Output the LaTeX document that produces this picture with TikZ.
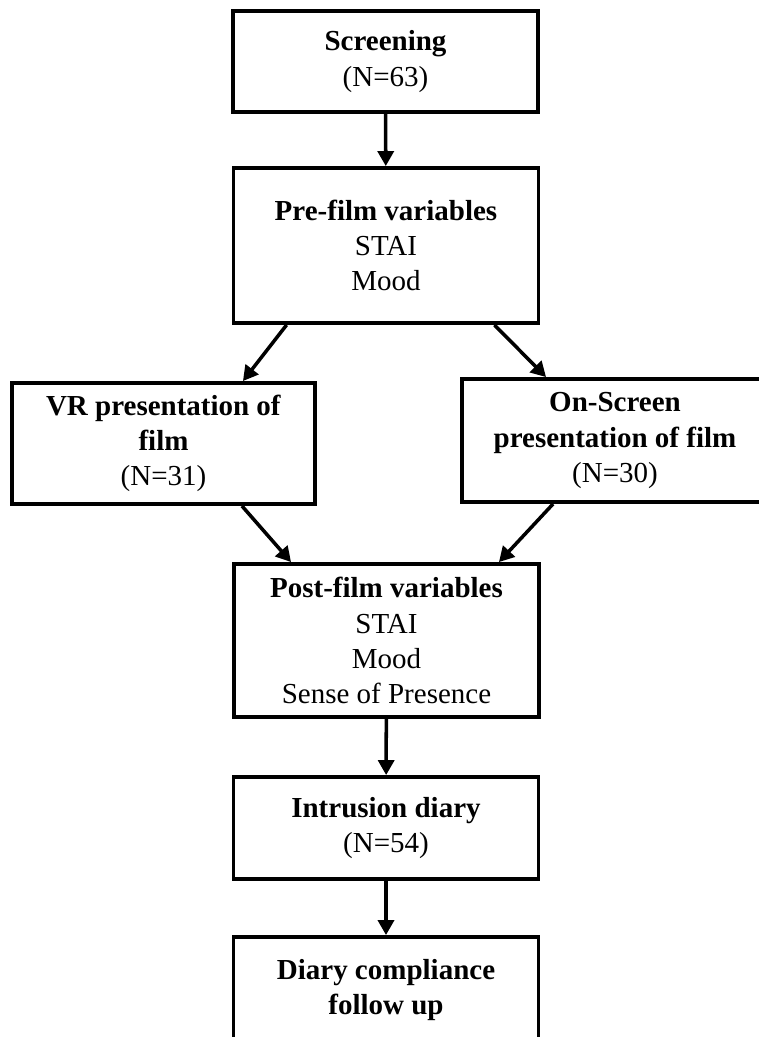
\documentclass[tikz,border=0pt]{standalone}
\usepackage{fontspec}
\setmainfont{Liberation Serif}
\usepackage{tikz}
\usetikzlibrary{arrows.meta}

\begin{document}
\begin{tikzpicture}[
        box/.style={rectangle, draw, line width=2.2pt, minimum width=6.1cm, inner sep=0pt, align=center, font=\fontsize{16.5}{20}\selectfont},
        arr/.style={-{Triangle[length=0.3cm, width=0.32cm]}, line width=2pt}
    ]
        \useasboundingbox (0, 0) rectangle (15.18, -20.74);

        \node[box, minimum height=2.02cm] at (7.71, -1.23)   (Scr)  {\textbf{Screening}\\(N=63)};
        \node[box, minimum height=3.1cm]  at (7.72, -4.91)   (Pre)  {\textbf{Pre-film variables}\\STAI\\Mood};
        \node[box, minimum width=6.06cm, minimum height=2.42cm] at (3.27, -8.87) (VR) {\textbf{VR presentation of}\\\textbf{film}\\(N=31)};
        \node[box, minimum width=6.12cm, minimum height=2.46cm] at (12.3, -8.81) (OS) {\textbf{On-Screen}\\\textbf{presentation of film}\\(N=30)};
        \node[box, minimum height=3.06cm] at (7.73, -12.81)  (Post) {\textbf{Post-film variables}\\STAI\\Mood\\Sense of Presence};
        \node[box, minimum height=2.04cm] at (7.72, -16.56)  (Diary) {\textbf{Intrusion diary}\\(N=54)};
        \node[box, minimum height=2.12cm] at (7.72, -19.8)   (Comp) {\textbf{Diary compliance}\\\textbf{follow up}};

        \draw [arr] (Scr) -- (Pre);
        \draw [arr] ([xshift=1.1cm]Pre.south west) -- ([xshift=-1.48cm]VR.north east);
        \draw [arr] ([xshift=-0.92cm]Pre.south east) -- ([xshift=1.72cm]OS.north west);
        \draw [arr] ([xshift=-1.5cm]VR.south east) -- ([xshift=1.18cm]Post.north west);
        \draw [arr] ([xshift=1.86cm]OS.south west) -- ([xshift=-0.84cm]Post.north east);
        \draw [arr] (Post) -- (Diary);
        \draw [arr] (Diary) -- (Comp);
    \end{tikzpicture}
\end{document}
